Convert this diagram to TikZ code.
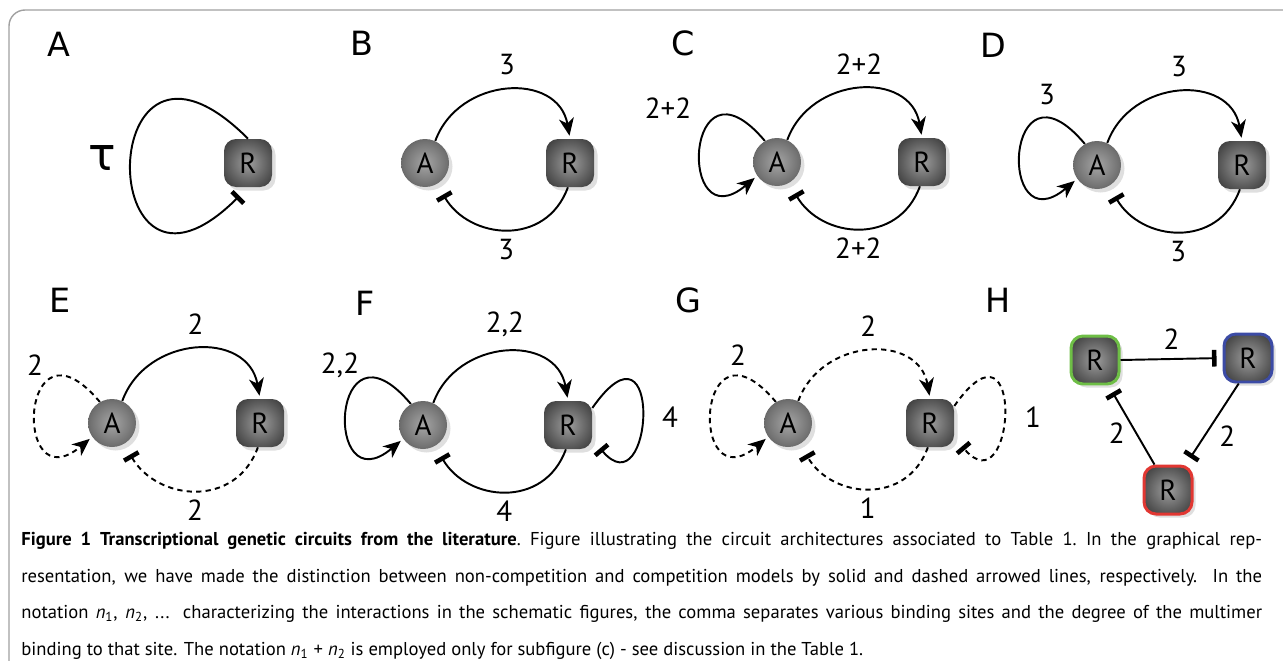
\documentclass[tikz,border=0pt]{standalone}
\usepackage{fontspec}
\setmainfont{PT Sans}
\newfontfamily\panelfont{DejaVu Sans}
\usetikzlibrary{shapes,arrows.meta,positioning,shadows}

\definecolor{framegray}{RGB}{160,160,160}
\definecolor{ringgreen}{RGB}{110,190,70}
\definecolor{ringblue}{RGB}{60,75,165}
\definecolor{ringred}{RGB}{225,55,50}

\pgfdeclareradialshading{ballshade}{\pgfpoint{0bp}{0bp}}{%
  color(0bp)=(black!35); color(22bp)=(black!55); color(42bp)=(black!78); color(50bp)=(black!85)}
\pgfdeclareradialshading{boxshade}{\pgfpoint{0bp}{0bp}}{%
  color(0bp)=(black!38); color(20bp)=(black!62); color(40bp)=(black!85); color(50bp)=(black!90)}

\tikzstyle{actnode} = [circle, minimum size=0.96cm, inner sep=0pt, shading=ballshade,
    font=\fontsize{16.5}{18}\selectfont,
    drop shadow={shadow xshift=0.07cm, shadow yshift=-0.07cm, opacity=0.25}]
\tikzstyle{repnode} = [rectangle, rounded corners=0.24cm, minimum size=0.96cm, inner sep=0pt,
    shading=boxshade, font=\fontsize{16.5}{18}\selectfont,
    drop shadow={shadow xshift=0.07cm, shadow yshift=-0.07cm, opacity=0.25}]
\tikzstyle{ring} = [draw, line width=1.7pt]
\tikzstyle{panel} = [font=\panelfont\fontsize{19}{20}\selectfont]
\tikzstyle{num} = [inner sep=0pt, font=\fontsize{16.5}{18}\selectfont]
\tikzstyle{activ} = [draw, line width=1.1pt, -{Stealth[length=10pt,width=8.5pt,inset=3pt]}, shorten >=0.06cm]
\tikzstyle{inhib} = [draw, line width=1.1pt, -{Bar[width=9.5pt,line width=2.6pt]}, shorten >=0.24cm]
\tikzstyle{compet} = [dash pattern=on 3pt off 2.4pt]

\begin{document}
\begin{tikzpicture}[x=0.02cm, y=0.02cm]
	\useasboundingbox (0,0) rectangle (1283,-660);
	% frame
	\draw[framegray, line width=0.8pt, rounded corners=0.32cm] (9,-720) |- (1340,-10);

	% A
	\node[panel] (labA) at (59,-44) {A};
	\node[panel, font=\panelfont\fontsize{26}{26}\selectfont] (tau) at (102,-158) {τ};
	\node[repnode] (repA) at (248,-163) {R};
	\path[inhib] (repA.north) .. controls +(135:220) and +(225:220) .. (repA.south);

	% B
	\node[panel] (labB) at (362,-43) {B};
	\node[actnode] (actB) at (425,-163) {A};
	\node[repnode] (repB) at (570,-163) {R};
	\path[activ] (actB.65) to[out=70, in=100, looseness=1.3] node[num, above=8pt] {3} (repB.north);
	\path[inhib] (repB.265) to[out=250, in=300, looseness=1.25] node[num, below=5pt] {3} (actB.300);

	% C
	\node[panel] (labC) at (683,-43) {C};
	\node[actnode] (actC) at (777,-162) {A};
	\node[repnode] (repC) at (922,-162) {R};
	\path[activ] (actC.120) .. controls +(130:125) and +(220:105) .. (actC.215);
	\node[num] (selfC) at (668,-108) {2+2};
	\path[activ] (actC.65) to[out=70, in=100, looseness=1.3] node[num, above=8pt] {2+2} (repC.north);
	\path[inhib] (repC.265) to[out=250, in=300, looseness=1.25] node[num, below=5pt] {2+2} (actC.300);

	% D
	\node[panel] (labD) at (993,-45) {D};
	\node[actnode] (actD) at (1097,-165) {A};
	\node[repnode] (repD) at (1242,-165) {R};
	\path[activ] (actD.120) .. controls +(130:125) and +(220:105) .. (actD.215);
	\node[num] (selfD) at (1047,-95) {3};
	\path[activ] (actD.65) to[out=70, in=100, looseness=1.3] node[num, above=8pt] {3} (repD.north);
	\path[inhib] (repD.265) to[out=250, in=300, looseness=1.25] node[num, below=5pt] {3} (actD.300);

	% E
	\node[panel] (labE) at (60,-300) {E};
	\node[actnode] (actE) at (112,-423) {A};
	\node[repnode] (repE) at (260,-423) {R};
	\path[activ, compet] (actE.120) .. controls +(130:125) and +(220:105) .. (actE.215);
	\node[num] (selfE) at (35,-365) {2};
	\path[activ] (actE.65) to[out=70, in=100, looseness=1.3] node[num, above=8pt] {2} (repE.north);
	\path[inhib, compet] (repE.265) to[out=250, in=300, looseness=1.25] node[num, below=5pt] {2} (actE.300);

	% F
	\node[panel] (labF) at (365,-303) {F};
	\node[actnode] (actF) at (423,-425) {A};
	\node[repnode] (repF) at (568,-425) {R};
	\path[activ] (actF.120) .. controls +(130:125) and +(220:105) .. (actF.215);
	\node[num] (selfF) at (340,-365) {2,2};
	\path[activ] (actF.65) to[out=70, in=100, looseness=1.3] node[num, above=8pt] {2,2} (repF.north);
	\path[inhib] (repF.35) .. controls +(55:125) and +(-50:95) .. (repF.-30);
	\node[num] (selfRF) at (670,-417) {4};
	\path[inhib] (repF.265) to[out=250, in=300, looseness=1.25] node[num, below=5pt] {4} (actF.300);

	% G
	\node[panel] (labG) at (688,-300) {G};
	\node[actnode] (actG) at (788,-423) {A};
	\node[repnode] (repG) at (930,-423) {R};
	\path[activ, compet] (actG.120) .. controls +(130:125) and +(220:105) .. (actG.215);
	\node[num] (selfG) at (738,-355) {2};
	\path[activ, compet] (actG.65) to[out=70, in=100, looseness=1.3] node[num, above=8pt] {2} (repG.north);
	\path[inhib, compet] (repG.35) .. controls +(55:125) and +(-50:95) .. (repG.-30);
	\node[num] (selfRG) at (1033,-417) {1};
	\path[inhib, compet] (repG.265) to[out=250, in=300, looseness=1.25] node[num, below=5pt] {1} (actG.300);

	% H
	\node[panel] (labH) at (998,-300) {H};
	\node[repnode, ring, draw=ringgreen] (greenR) at (1095,-360) {R};
	\node[repnode, ring, draw=ringblue] (blueR) at (1248,-358) {R};
	\node[repnode, ring, draw=ringred] (redR) at (1168,-490) {R};
	\path[inhib, shorten >=0.12cm] (greenR.east) -- node[num, above=5pt] {2} (blueR.west);
	\path[inhib, shorten >=0.16cm] (redR.118) -- node[num, pos=0.4, left=6pt] {2} (greenR.-62);
	\path[inhib, shorten >=0.16cm] (blueR.-110) -- node[num, pos=0.65, right=8pt] {2} (redR.55);

	% caption
	\node[anchor=north west, align=left, inner sep=0pt, font=\fontsize{10.6}{18}\selectfont] (caption) at (21,-532) {%
\fontsize{10.6}{18}\selectfont\frenchspacing
\makebox[24.82cm][s]{\textbf{Figure 1 Transcriptional genetic circuits from the literature}. Figure illustrating the circuit architectures associated to Table 1. In the graphical rep-}\\[2.8pt]
\makebox[24.82cm][s]{resentation, we have made the distinction between non-competition and competition models by solid and dashed arrowed lines, respectively. In the}\\[2.8pt]
\makebox[24.82cm][s]{notation \textit{n}\textsubscript{1}, \textit{n}\textsubscript{2}, ... characterizing the interactions in the schematic figures, the comma separates various binding sites and the degree of the multimer}\\[2.8pt]
binding to that site. The notation \textit{n}\textsubscript{1} + \textit{n}\textsubscript{2} is employed only for subfigure (c) - see discussion in the Table 1.};
\end{tikzpicture}
\end{document}
